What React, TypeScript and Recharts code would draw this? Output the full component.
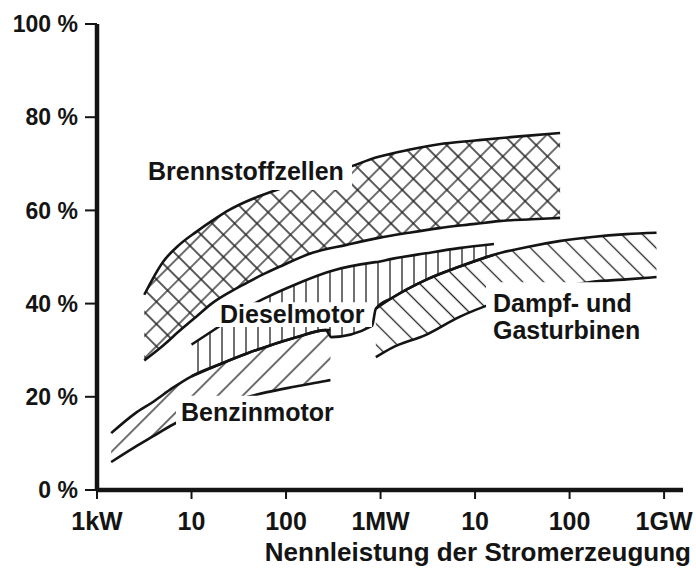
import React from 'react';
import { ComposedChart, Area, Line, XAxis, YAxis, ReferenceArea } from 'recharts';

// x = log10(rated power / 1 kW)
const xTickValues = [0, 1, 2, 3, 4, 5, 6];
const xTickLabels = ['1kW', '10', '100', '1MW', '10', '100', '1GW'];
const yTickValues = [0, 20, 40, 60, 80, 100];

// Brennstoffzellen (fuel cells)
const fuelX = [0.5, 0.7, 0.87, 1.05, 1.22, 1.4, 1.58, 1.75, 1.93, 2.28, 2.64, 2.98, 3.3, 3.62, 4.0, 4.25, 4.6, 4.9];
const fuelLo = [27.8, 31.0, 34.1, 37.2, 40.1, 42.4, 44.4, 46.2, 47.9, 50.9, 52.6, 54.1, 55.2, 56.2, 57.1, 57.7, 58.1, 58.4];
const fuelHi = [41.9, 49.0, 52.6, 55.4, 57.8, 60.1, 61.9, 63.3, 64.6, 66.8, 69.1, 71.5, 73.0, 74.2, 75.0, 75.5, 76.1, 76.6];

// Dieselmotor
const dieselX = [1.0, 1.3, 1.6, 1.8, 2.1, 2.42, 2.48, 2.91, 2.95, 3.12, 3.48, 3.83, 4.2];
const dieselLo = [24.4, 27.0, 29.4, 30.8, 32.7, 34.3, 32.8, 35.2, 38.9, 41.2, 45.1, 47.9, 50.5];
const dieselHi = [31.2, 35.2, 39.3, 41.4, 44.1, 46.6, 47.0, 48.8, 48.9, 49.6, 50.8, 51.9, 52.8];

// Benzinmotor
const petrolX = [0.15, 0.4, 0.6, 0.8, 1.0, 1.3, 1.6, 1.8, 2.1, 2.42, 2.47];
const petrolLo = [6.0, 9.2, 11.6, 14.0, 15.8, 18.2, 20.0, 21.0, 22.2, 23.4, 23.6];
const petrolHi = [12.2, 16.4, 19.0, 21.9, 24.4, 27.0, 29.4, 30.8, 32.7, 34.3, 34.3];

// Dampf- und Gasturbinen
const turbineX = [2.95, 3.12, 3.48, 3.83, 4.2, 4.54, 4.89, 5.24, 5.6, 5.92];
const turbineLo = [28.5, 30.5, 33.3, 37.1, 40.1, 42.1, 43.5, 44.7, 45.2, 45.7];
const turbineHi = [38.9, 41.2, 45.1, 47.9, 50.5, 52.1, 53.4, 54.3, 54.9, 55.2];

const makeRows = (xs: number[], lo: number[], hi: number[]) =>
  xs.map((x, i) => ({ x, lo: lo[i], hi: hi[i], range: [lo[i], hi[i]] }));

const fuelRows = makeRows(fuelX, fuelLo, fuelHi);
const dieselRows = makeRows(dieselX, dieselLo, dieselHi);
const petrolRows = makeRows(petrolX, petrolLo, petrolHi);
const turbineRows = makeRows(turbineX, turbineLo, turbineHi);

const FONT = "'Liberation Sans', Arial, Helvetica, sans-serif";
const INK = '#141414';
const HATCH = '#222';

const BoxLabel = ({ viewBox, lines, padX, padY }: any) => {
  if (!viewBox) return null;
  const x = viewBox.x + padX;
  return (
    <text x={x} y={viewBox.y + padY} fontFamily={FONT} fontSize={25} fontWeight={700} fill={INK}>
      {lines.map((t: string, i: number) => (
        <tspan key={i} x={x} dy={i === 0 ? 0 : 27}>
          {t}
        </tspan>
      ))}
    </text>
  );
};

const AxisTitle = (p: any) => {
  const vb = p && p.viewBox ? p.viewBox : { x: 97, y: 490, width: 586, height: 79 };
  return (
    <text
      x={vb.x + vb.width + 8}
      y={vb.y + 71}
      textAnchor="end"
      fontFamily={FONT}
      fontSize={26}
      fontWeight={700}
      fill={INK}
    >
      Nennleistung der Stromerzeugung
    </text>
  );
};

const band = (rows: any[], fill: string) => [
  <Area
    key={fill + 'a'}
    data={rows}
    dataKey="range"
    type="monotone"
    stroke="none"
    fill={`url(#${fill})`}
    fillOpacity={1}
    dot={false}
    activeDot={false}
    isAnimationActive={false}
  />,
  <Line
    key={fill + 'l'}
    data={rows}
    dataKey="lo"
    type="monotone"
    stroke={INK}
    strokeWidth={2.6}
    dot={false}
    activeDot={false}
    isAnimationActive={false}
  />,
  <Line
    key={fill + 'h'}
    data={rows}
    dataKey="hi"
    type="monotone"
    stroke={INK}
    strokeWidth={2.6}
    dot={false}
    activeDot={false}
    isAnimationActive={false}
  />,
];

export default function App() {
  return (
    <div style={{ position: 'absolute', left: 0, top: 0, width: 696, height: 569, background: '#fff' }}>
      <ComposedChart width={696} height={569} margin={{ top: 24, right: 13, bottom: 0, left: 0 }}>
        <defs>
          <pattern id="hCross" patternUnits="userSpaceOnUse" width="15.8" height="15.8" patternTransform="rotate(45)">
            <path d="M7.9,0 V15.8 M0,7.9 H15.8" stroke={HATCH} strokeWidth={1.3} />
          </pattern>
          <pattern id="hVert" patternUnits="userSpaceOnUse" width="12" height="12">
            <path d="M6,0 V12" stroke={HATCH} strokeWidth={1.3} />
          </pattern>
          <pattern id="hSlash" patternUnits="userSpaceOnUse" width="17.7" height="10" patternTransform="rotate(45)">
            <path d="M8.85,0 V10" stroke={HATCH} strokeWidth={1.3} />
          </pattern>
          <pattern id="hBack" patternUnits="userSpaceOnUse" width="14.8" height="10" patternTransform="rotate(-45)">
            <path d="M7.4,0 V10" stroke={HATCH} strokeWidth={1.3} />
          </pattern>
        </defs>
        <XAxis
          type="number"
          dataKey="x"
          domain={[0, 6.2]}
          ticks={xTickValues}
          tickFormatter={(v: number) => xTickLabels[Math.round(v)] ?? ''}
          height={79}
          tickSize={9}
          tickMargin={13}
          interval={0}
          axisLine={{ stroke: INK, strokeWidth: 4.5 }}
          tickLine={{ stroke: INK, strokeWidth: 2 }}
          tick={{ fontFamily: FONT, fontSize: 25, fontWeight: 700, fill: INK }}
          label={(p: any) => <AxisTitle {...p} />}
        />
        <YAxis
          type="number"
          domain={[0, 100]}
          ticks={yTickValues}
          tickFormatter={(v: number) => `${v} %`}
          width={97}
          tickSize={12}
          tickMargin={7}
          interval={0}
          axisLine={{ stroke: INK, strokeWidth: 4.5 }}
          tickLine={{ stroke: INK, strokeWidth: 2 }}
          tick={{ fontFamily: FONT, fontSize: 23, fontWeight: 700, fill: INK }}
        />
        {band(fuelRows, 'hCross')}
        {band(dieselRows, 'hVert')}
        {band(petrolRows, 'hSlash')}
        {band(turbineRows, 'hBack')}
        <ReferenceArea
          x1={0.455}
          x2={2.698}
          y1={64.4}
          y2={73.0}
          fill="#fff"
          fillOpacity={1}
          stroke="none"
          zIndex={1500}
          label={(p: any) => <BoxLabel viewBox={p.viewBox} lines={['Brennstoffzellen']} padX={8} padY={30} />}
        />
        <ReferenceArea
          x1={1.259}
          x2={2.91}
          y1={35.0}
          y2={40.3}
          fill="#fff"
          fillOpacity={1}
          stroke="none"
          zIndex={1500}
          label={(p: any) => <BoxLabel viewBox={p.viewBox} lines={['Dieselmotor']} padX={4} padY={21} />}
        />
        <ReferenceArea
          x1={0.836}
          x2={2.571}
          y1={13.3}
          y2={20.2}
          fill="#fff"
          fillOpacity={1}
          stroke="none"
          zIndex={1500}
          label={(p: any) => <BoxLabel viewBox={p.viewBox} lines={['Benzinmotor']} padX={5} padY={25} />}
        />
        <ReferenceArea
          x1={4.116}
          x2={5.873}
          y1={31.1}
          y2={44.6}
          fill="#fff"
          fillOpacity={1}
          stroke="none"
          zIndex={1500}
          label={(p: any) => <BoxLabel viewBox={p.viewBox} lines={['Dampf- und', 'Gasturbinen']} padX={7} padY={30} />}
        />
      </ComposedChart>
    </div>
  );
}
